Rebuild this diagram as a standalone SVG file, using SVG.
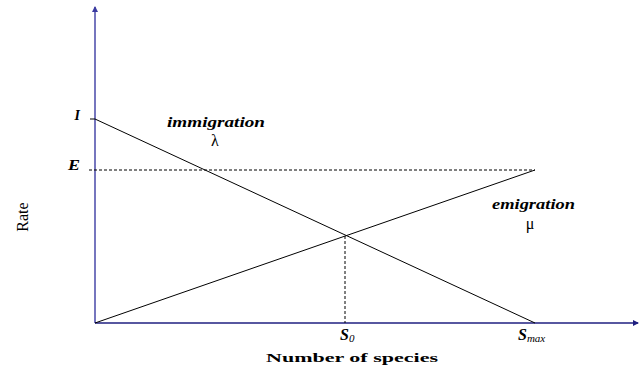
<svg xmlns="http://www.w3.org/2000/svg" width="644" height="368" viewBox="0 0 644 368">
<style>
.lbl{font-family:"Liberation Serif","DejaVu Serif","Times New Roman",serif;font-weight:bold;font-style:italic;fill:#000}
.up{font-family:"Liberation Serif","DejaVu Serif","Times New Roman",serif;fill:#000}
.ln{stroke:#000;stroke-width:1;fill:none}
.dash{stroke:#000;stroke-width:1;stroke-dasharray:3,2;fill:none}
</style>
<defs>
<marker id="ahy" viewBox="0 0 6 6" refX="5" refY="3" markerWidth="6" markerHeight="6" orient="auto" markerUnits="userSpaceOnUse"><path d="M0,0 L6,3 L0,6 z" fill="#3a3aa0"/></marker>
<marker id="ahx" viewBox="0 0 6 6" refX="5" refY="3" markerWidth="6" markerHeight="6" orient="auto" markerUnits="userSpaceOnUse"><path d="M0,0 L6,3 L0,6 z" fill="#1f1f80"/></marker>
</defs>
<g id="axes">
<line x1="95" y1="323" x2="95" y2="7" stroke="#4848a8" stroke-width="1.5" marker-end="url(#ahy)"/>
<line x1="95" y1="323" x2="638" y2="323" stroke="#1f1f80" stroke-width="1.3" marker-end="url(#ahx)"/>
</g>
<g id="connectors">
<line class="ln" x1="90" y1="119" x2="95" y2="119"/>
<line class="ln" x1="95" y1="119" x2="535" y2="323"/>
<line class="ln" x1="95" y1="323" x2="535" y2="170"/>
<line class="dash" x1="89" y1="170" x2="535" y2="170"/>
<line class="dash" x1="345" y1="236" x2="345" y2="323"/>
</g>
<g id="labels">
<text class="lbl" x="80" y="120" font-size="14" text-anchor="end">I</text>
<text class="lbl" x="80" y="170" font-size="14" text-anchor="end" textLength="12" lengthAdjust="spacingAndGlyphs">E</text>
<text class="lbl" x="167" y="127" font-size="15" textLength="98" lengthAdjust="spacingAndGlyphs">immigration</text>
<text class="up" x="215" y="146" font-size="16" text-anchor="middle">λ</text>
<text class="lbl" x="492" y="209" font-size="15" textLength="83" lengthAdjust="spacingAndGlyphs">emigration</text>
<text class="up" x="530" y="229" font-size="16" text-anchor="middle">μ</text>
<text class="lbl" x="340" y="340" font-size="16">S<tspan font-size="11" dy="2" font-weight="normal">0</tspan></text>
<text class="lbl" x="518" y="340" font-size="16">S<tspan font-size="11" dy="2" font-weight="normal">max</tspan></text>
<text class="up" x="266" y="362" font-size="13" font-weight="bold" textLength="172" lengthAdjust="spacingAndGlyphs">Number of species</text>
<text class="up" x="0" y="0" font-size="16" text-anchor="middle" transform="translate(28,217) rotate(-90)">Rate</text>
</g>
</svg>
